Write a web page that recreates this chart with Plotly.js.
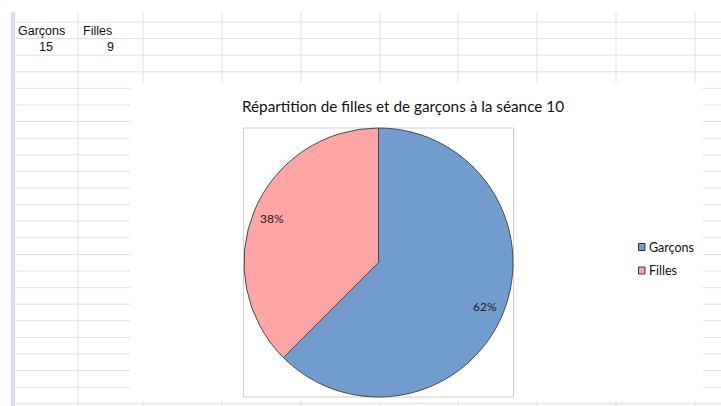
<!DOCTYPE html>
<html>
<head>
<meta charset="utf-8">
<script src="https://cdn.plot.ly/plotly-3.0.1.min.js"></script>
<style>html,body{margin:0;padding:0;background:#fff;}#chart{width:721px;height:406px;}</style>
</head>
<body>
<div id="chart"></div>
<script>
// Data
const categories = ['Garçons', 'Filles'];
const values = [15, 9];
const pctLabels = ['62%', '38%'];
const sliceColors = ['#729ccd', '#ffa5a5'];
const chartTitle = 'Répartition de filles et de garçons à la séance 10';

const W = 721, H = 406;
const px = x => x / W;
const py = y => 1 - y / H;

const gridColor = '#dcdfe8';
const shapes = [];
// spreadsheet column lines
const colLines = [78, 143, 222, 301, 380, 458, 537, 616, 695];
colLines.forEach(x => shapes.push({type:'line', xref:'paper', yref:'paper', x0:px(x), x1:px(x), y0:py(12), y1:py(406), line:{color:gridColor, width:1}, layer:'below'}));
// row lines
for (let i = 0; i < 23; i++) {
  const y = 22 + i * 16.6;
  shapes.push({type:'line', xref:'paper', yref:'paper', x0:px(14), x1:px(721), y0:py(y), y1:py(y), line:{color:gridColor, width:1}, layer:'below'});
}
shapes.push({type:'line', xref:'paper', yref:'paper', x0:px(14), x1:px(721), y0:py(403.5), y1:py(403.5), line:{color:'#e6e9f1', width:2}, layer:'below'});
// left header bar
shapes.push({type:'rect', xref:'paper', yref:'paper', x0:px(11), x1:px(15), y0:py(12), y1:py(406), fillcolor:'#d6deee', line:{width:0}, layer:'below'});
// chart area (white)
shapes.push({type:'rect', xref:'paper', yref:'paper', x0:px(130), x1:px(703), y0:py(83), y1:py(401), fillcolor:'#ffffff', line:{width:0}, layer:'below'});
// plot area frame
shapes.push({type:'rect', xref:'paper', yref:'paper', x0:px(243.5), x1:px(513.5), y0:py(128), y1:py(397), fillcolor:'rgba(0,0,0,0)', line:{color:'#cfcfcf', width:1}, layer:'below'});

const cellFont = {family:'Liberation Sans, Arial, sans-serif', size:12.5, color:'#111'};
const annotations = [
  {text:categories[0], xref:'paper', yref:'paper', x:px(16), y:py(31), xanchor:'left', yanchor:'middle', showarrow:false, font:cellFont},
  {text:categories[1], xref:'paper', yref:'paper', x:px(81), y:py(31), xanchor:'left', yanchor:'middle', showarrow:false, font:cellFont},
  {text:String(values[0]), xref:'paper', yref:'paper', x:px(46), y:py(46.5), xanchor:'center', yanchor:'middle', showarrow:false, font:cellFont},
  {text:String(values[1]), xref:'paper', yref:'paper', x:px(111), y:py(46.5), xanchor:'center', yanchor:'middle', showarrow:false, font:cellFont}
];

// pie geometry (pixels)
const pieX = [244, 513], pieY = [128, 397];
const cx = (pieX[0] + pieX[1]) / 2, cy = (pieY[0] + pieY[1]) / 2;
const R = (pieX[1] - pieX[0]) / 2;

// data labels placed at slice mid-angles (clockwise from 12 o'clock)
const total = values.reduce((a, b) => a + b, 0);
let cum = 0;
values.forEach((v, i) => {
  const mid = (cum + v / 2) / total * 2 * Math.PI;
  cum += v;
  const r = 0.86 * R;
  annotations.push({text:pctLabels[i], xref:'paper', yref:'paper',
    x:px(cx + r * Math.sin(mid)), y:py(cy - r * Math.cos(mid)),
    xanchor:'center', yanchor:'middle', showarrow:false,
    font:{family:'Lato, sans-serif', size:12, color:'#222'}});
});

// legend (manual, Excel style)
const legY = [247, 270.5];
categories.forEach((c, i) => {
  shapes.push({type:'rect', xref:'paper', yref:'paper', x0:px(638.5), x1:px(645), y0:py(legY[i] - 3.5), y1:py(legY[i] + 3.5), fillcolor:sliceColors[i], line:{color:'#333', width:1}});
  annotations.push({text:c, xref:'paper', yref:'paper', x:px(646.5), y:py(legY[i]), xanchor:'left', yanchor:'middle', showarrow:false,
    font:{family:'Lato, sans-serif', size:12.5, color:'#111'}});
});

const trace = {
  type:'pie',
  labels:categories,
  values:values,
  textinfo:'none',
  sort:false,
  direction:'clockwise',
  rotation:0,
  marker:{colors:sliceColors, line:{color:'#4a4a4a', width:1}},
  domain:{x:[px(pieX[0]), px(pieX[1])], y:[py(pieY[1]), py(pieY[0])]},
  hoverinfo:'none',
  showlegend:false
};

const layout = {
  width:W, height:H,
  margin:{l:0, r:0, t:0, b:0},
  paper_bgcolor:'#ffffff',
  plot_bgcolor:'#ffffff',
  title:{text:chartTitle, x:px(403), y:py(107), xref:'paper', yref:'paper', xanchor:'center', yanchor:'middle', font:{family:'Lato, sans-serif', size:15.3, color:'#111'}},
  showlegend:false,
  shapes:shapes,
  annotations:annotations
};

Plotly.newPlot('chart', [trace], layout, {displayModeBar:false, staticPlot:true});
</script>
</body>
</html>
